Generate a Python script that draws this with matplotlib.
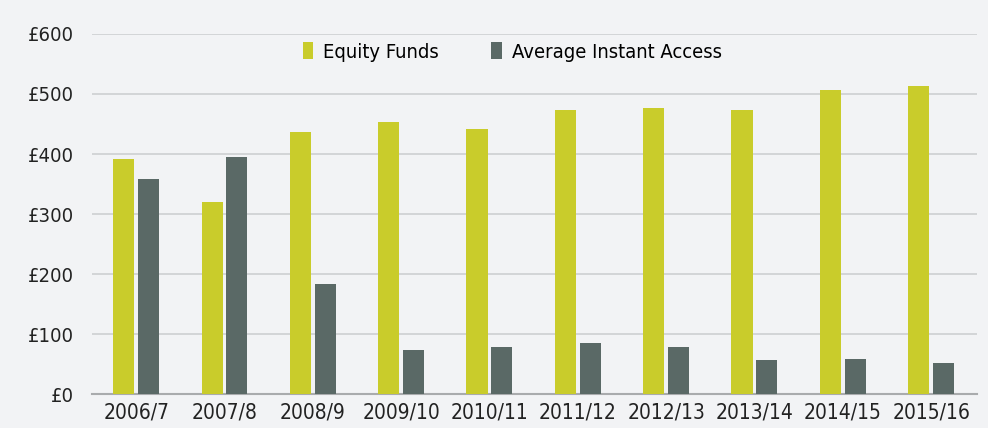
import matplotlib.pyplot as plt
import numpy as np

years = ["2006/7", "2007/8", "2008/9", "2009/10", "2010/11",
         "2011/12", "2012/13", "2013/14", "2014/15", "2015/16"]
equity = [391, 320, 436, 453, 441, 473, 476, 473, 506, 514]
instant = [358, 395, 183, 74, 79, 85, 79, 57, 59, 51]
yticks = [0, 100, 200, 300, 400, 500, 600]

bg = "#f2f3f5"
plt.rcParams["font.family"] = ["DejaVu Sans"]
plt.rcParams["font.stretch"] = "condensed"

fig = plt.figure(figsize=(9.88, 4.28), dpi=100, facecolor=bg)
ax = fig.add_axes([92 / 988, 1 - 394 / 428, (977 - 92) / 988, 360 / 428])
ax.set_facecolor(bg)

x = np.arange(len(years))
w = 0.24
ax.bar(x - 0.14, equity, w, color="#c9cc2b", label="Equity Funds", zorder=3)
ax.bar(x + 0.14, instant, w, color="#5a6966", label="Average Instant Access", zorder=3)

ax.set_xlim(-0.5, 9.52)
ax.set_ylim(0, 600)
ax.set_yticks(yticks)
ax.set_yticklabels(["£%d" % v for v in yticks])
ax.set_xticks(x)
ax.set_xticklabels(years)
ax.tick_params(length=0, labelsize=15, colors="#222222")
ax.tick_params(axis="y", pad=13, labelsize=14.5)
ax.tick_params(axis="x", pad=6)
ax.grid(axis="y", color="#cdcfd1", linewidth=1.2, zorder=0)
for s in ["top", "right", "left"]:
    ax.spines[s].set_visible(False)
ax.spines["bottom"].set_color("#a9abad")
ax.spines["bottom"].set_linewidth(1.5)

ax.legend(loc="center", bbox_to_anchor=(0.475, 0.95), ncol=2, frameon=False,
          fontsize=14.5, handlelength=0.5, handleheight=0.9, handletextpad=0.5,
          columnspacing=2.6)

fig.savefig("out.png", dpi=100, facecolor=bg)
